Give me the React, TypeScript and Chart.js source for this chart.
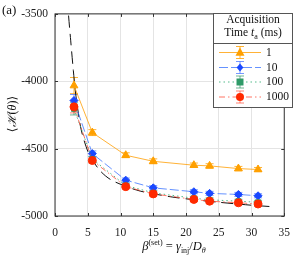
import React, { useEffect, useRef } from 'react';
import { Chart, registerables } from 'chart.js';

Chart.register(...registerables);

// ---- data ----
const betaSet = [2.9, 5.7, 10.8, 15.0, 21.2, 23.6, 28.0, 31.0];
const h1 = [-4032, -4381, -4549, -4594, -4623, -4628, -4648, -4655];
const err1 = [60, 22, 18, 18, 16, 16, 16, 15];
const h10 = [-4143, -4537, -4734, -4791, -4820, -4832, -4840, -4850];
const err10 = [45, 20, 16, 16, 15, 15, 15, 15];
const h100 = [-4205, -4578, -4773, -4828, -4868, -4880, -4890, -4898];
const err100 = [45, 18, 15, 15, 14, 14, 14, 14];
const h1000 = [-4190, -4588, -4782, -4836, -4877, -4890, -4902, -4911];
const err1000 = [45, 18, 15, 15, 14, 14, 14, 14];
const theoryBeta = [1.9, 2.05, 2.4, 2.8, 3.2, 4.0, 5.0, 5.7, 7.0, 8.5, 10.8, 13, 15, 18, 21, 25, 30, 33.5];
const theoryH = [-3380, -3500, -3700, -3920, -4110, -4360, -4520, -4585, -4670, -4730, -4780, -4815, -4835, -4860, -4878, -4898, -4920, -4932];
const xTicks = [0, 5, 10, 15, 20, 25, 30, 35];
const yTicks = [-5000, -4500, -4000, -3500];
const legendLabels = ['1', '10', '100', '1000'];

const FONT = '"Liberation Serif", "DejaVu Serif", serif';

type Series = {
  values: number[];
  errs: number[];
  marker: string;
  line: string;
  err: string;
  dash: number[];
  style: string;
  radius: number;
};

const series: Series[] = [
  { values: h1, errs: err1, marker: '#ffa000', line: 'rgba(255,165,20,0.85)', err: 'rgba(255,160,0,0.8)', dash: [], style: 'triangle', radius: 4.5 },
  { values: h10, errs: err10, marker: '#1a48ff', line: 'rgba(50,110,255,0.75)', err: 'rgba(60,110,255,0.7)', dash: [9, 3], style: 'rectRot', radius: 4 },
  { values: h100, errs: err100, marker: '#2f9a68', line: 'rgba(40,170,110,0.8)', err: 'rgba(50,150,100,0.7)', dash: [1.5, 3], style: 'rect', radius: 3.5 },
  { values: h1000, errs: err1000, marker: '#ff2a00', line: 'rgba(255,70,50,0.75)', err: 'rgba(255,80,60,0.7)', dash: [6, 3, 1.5, 3], style: 'circle', radius: 4 },
];

function drawMarker(ctx: CanvasRenderingContext2D, style: string, r: number, x: number, y: number) {
  ctx.beginPath();
  if (style === 'triangle') {
    ctx.moveTo(x, y - r * 1.1);
    ctx.lineTo(x + r, y + r * 0.7);
    ctx.lineTo(x - r, y + r * 0.7);
    ctx.closePath();
  } else if (style === 'rectRot') {
    ctx.moveTo(x, y - r);
    ctx.lineTo(x + r * 0.85, y);
    ctx.lineTo(x, y + r);
    ctx.lineTo(x - r * 0.85, y);
    ctx.closePath();
  } else if (style === 'rect') {
    ctx.rect(x - r, y - r, 2 * r, 2 * r);
  } else {
    ctx.arc(x, y, r, 0, Math.PI * 2);
  }
  ctx.fill();
}

const framePlugin = {
  id: 'frame',
  beforeDatasetsDraw(chart: any) {
    const { ctx, chartArea: a, scales } = chart;
    ctx.save();
    ctx.strokeStyle = '#333';
    ctx.lineWidth = 1;
    ctx.strokeRect(a.left, a.top, a.right - a.left, a.bottom - a.top);
    ctx.beginPath();
    xTicks.forEach((t) => {
      const px = Math.round(scales.x.getPixelForValue(t)) + 0.5;
      ctx.moveTo(px, a.bottom);
      ctx.lineTo(px, a.bottom - 3);
      ctx.moveTo(px, a.top);
      ctx.lineTo(px, a.top + 3);
    });
    yTicks.forEach((t) => {
      const py = Math.round(scales.y.getPixelForValue(t)) + 0.5;
      ctx.moveTo(a.left, py);
      ctx.lineTo(a.left + 3, py);
      ctx.moveTo(a.right, py);
      ctx.lineTo(a.right - 3, py);
    });
    ctx.stroke();
    // error bars
    series.forEach((s) => {
      ctx.strokeStyle = s.err;
      ctx.lineWidth = 1;
      ctx.beginPath();
      betaSet.forEach((b, i) => {
        const px = scales.x.getPixelForValue(b);
        const top = scales.y.getPixelForValue(s.values[i] + s.errs[i]);
        const bot = scales.y.getPixelForValue(s.values[i] - s.errs[i]);
        ctx.moveTo(px, top);
        ctx.lineTo(px, bot);
        ctx.moveTo(px - 4, top);
        ctx.lineTo(px + 4, top);
        ctx.moveTo(px - 4, bot);
        ctx.lineTo(px + 4, bot);
      });
      ctx.stroke();
    });
    ctx.restore();
  },
};

const legendPlugin = {
  id: 'customLegend',
  afterDatasetsDraw(chart: any) {
    const { ctx } = chart;
    const x0 = 213.5, y0 = 13.5, x1 = 292.5, y1 = 107.5;
    ctx.save();
    ctx.fillStyle = '#fff';
    ctx.fillRect(x0, y0, x1 - x0, y1 - y0);
    ctx.strokeStyle = '#555';
    ctx.lineWidth = 1;
    ctx.strokeRect(x0, y0, x1 - x0, y1 - y0);
    ctx.beginPath();
    ctx.moveTo(x0, 43.5);
    ctx.lineTo(x1, 43.5);
    ctx.stroke();
    const ys = [52.5, 67.5, 82, 97];
    series.forEach((s, i) => {
      const y = ys[i];
      ctx.strokeStyle = s.line;
      ctx.lineWidth = 1;
      ctx.setLineDash(s.dash);
      ctx.beginPath();
      ctx.moveTo(219, y);
      ctx.lineTo(261, y);
      ctx.stroke();
      ctx.setLineDash([]);
      ctx.strokeStyle = s.err;
      ctx.beginPath();
      ctx.moveTo(240, y - 6);
      ctx.lineTo(240, y + 6);
      ctx.moveTo(236, y - 6);
      ctx.lineTo(244, y - 6);
      ctx.moveTo(236, y + 6);
      ctx.lineTo(244, y + 6);
      ctx.stroke();
      ctx.fillStyle = s.marker;
      drawMarker(ctx, s.style, s.radius, 240, y);
    });
    ctx.restore();
  },
};

export default function App() {
  const ref = useRef<HTMLCanvasElement | null>(null);
  useEffect(() => {
    document.body.style.margin = '0';
    const canvas = ref.current;
    if (!canvas) return;
    const datasets: any[] = series.map((s, i) => ({
      label: legendLabels[i],
      data: betaSet.map((b, j) => ({ x: b, y: s.values[j] })),
      borderColor: s.line,
      backgroundColor: s.marker,
      pointBackgroundColor: s.marker,
      pointBorderColor: s.marker,
      pointStyle: s.style,
      pointRadius: s.radius,
      pointBorderWidth: 1,
      borderWidth: 1,
      borderDash: s.dash,
      showLine: true,
      order: 3 - i,
    }));
    datasets.push({
      label: 'theory',
      data: theoryBeta.map((b, j) => ({ x: b, y: theoryH[j] })),
      borderColor: '#111',
      borderWidth: 1,
      borderDash: [12, 6],
      pointRadius: 0,
      showLine: true,
      tension: 0.3,
      order: 5,
    });
    const chart = new Chart(canvas, {
      type: 'scatter',
      data: { datasets },
      options: {
        animation: false,
        responsive: false,
        devicePixelRatio: 1,
        layout: { padding: { left: 0, right: 7, top: 13, bottom: 0 } },
        plugins: { legend: { display: false }, tooltip: { enabled: false } },
        scales: {
          x: {
            type: 'linear',
            min: 0,
            max: 35,
            afterBuildTicks: (s: any) => {
              s.ticks = xTicks.map((v) => ({ value: v }));
            },
            afterFit: (s: any) => {
              s.height = 40;
            },
            grid: { color: '#e4e4e4', drawTicks: false },
            border: { display: false },
            ticks: { font: { family: FONT, size: 11.5 }, color: '#222', padding: 10, maxRotation: 0 },
          },
          y: {
            type: 'linear',
            min: -5000,
            max: -3500,
            afterBuildTicks: (s: any) => {
              s.ticks = yTicks.map((v) => ({ value: v }));
            },
            afterFit: (s: any) => {
              s.width = 55;
            },
            grid: { color: '#e4e4e4', drawTicks: false },
            border: { display: false },
            ticks: {
              font: { family: FONT, size: 11.5 },
              color: '#222',
              padding: 7,
              callback: (v: any) => String(v),
            },
          },
        },
      },
      plugins: [framePlugin, legendPlugin],
    });
    return () => chart.destroy();
  }, []);

  const txt: React.CSSProperties = { position: 'absolute', fontFamily: FONT, color: '#111', whiteSpace: 'nowrap', lineHeight: 1 };
  return (
    <div style={{ position: 'relative', width: 300, height: 256 }}>
      <canvas ref={ref} width={300} height={256} style={{ display: 'block', width: 300, height: 256 }} />
      <span style={{ ...txt, left: 2, top: 3, fontSize: 13 }}>(a)</span>
      <span
        style={{
          ...txt,
          left: 12,
          top: 114,
          fontSize: 12,
          transform: 'translate(-50%, -50%) rotate(-90deg)',
        }}
      >
        ⟨<i>ℋ</i>(<i>θ</i>)⟩
      </span>
      <span style={{ ...txt, left: 174, top: 247, fontSize: 12.5, transform: 'translate(-50%, -50%)' }}>
        <i>β</i>
        <sup style={{ fontSize: 8 }}>(set)</sup> = <i>γ</i>
        <sub style={{ fontSize: 8 }}>inj</sub>/<i>D</i>
        <sub style={{ fontSize: 8 }}>
          <i>θ</i>
        </sub>
      </span>
      <span style={{ ...txt, left: 253, top: 20, fontSize: 11.5, transform: 'translate(-50%, -50%)' }}>Acquisition</span>
      <span style={{ ...txt, left: 253, top: 34, fontSize: 11.5, transform: 'translate(-50%, -50%)' }}>
        Time <i>t</i>
        <sub style={{ fontSize: 8 }}>a</sub> (ms)
      </span>
      {legendLabels.map((l, i) => (
        <span key={l} style={{ ...txt, left: 266, top: [52.5, 67.5, 82, 97][i], fontSize: 11.5, transform: 'translateY(-50%)' }}>
          {l}
        </span>
      ))}
    </div>
  );
}
